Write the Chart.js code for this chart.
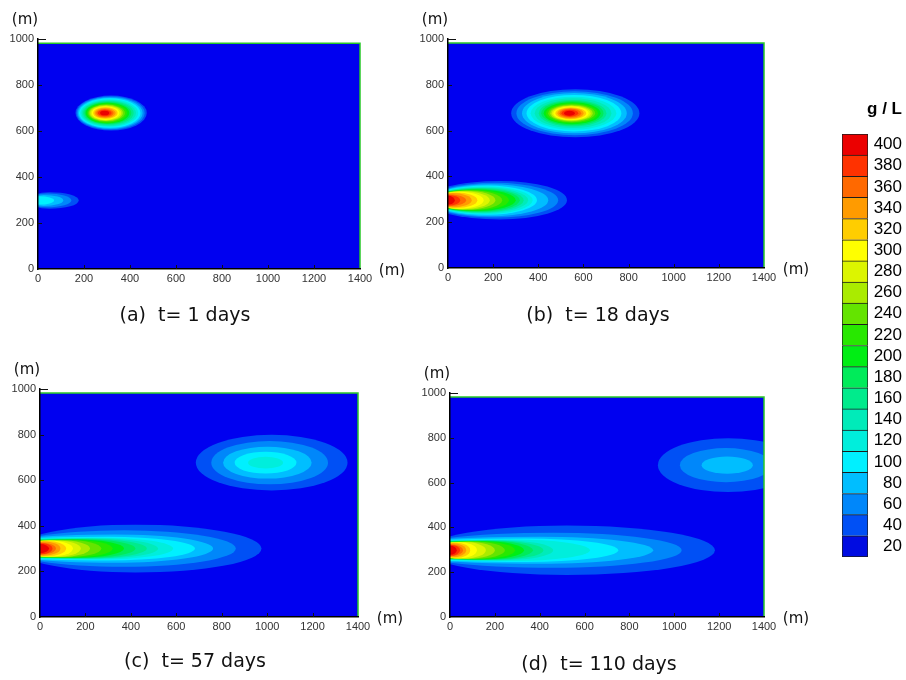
<!DOCTYPE html>
<html>
<head>
<meta charset="utf-8">
<script src="https://cdn.jsdelivr.net/npm/chart.js@4.4.0/dist/chart.umd.min.js"></script>
<style>
  body { margin: 0; background: #fff; }
  #wrap { position: relative; width: 906px; height: 680px; overflow: hidden; }
  canvas { position: absolute; }
</style>
</head>
<body>
<div id="wrap">
  <canvas id="pa" width="410" height="340" style="left:0px;top:0px"></canvas>
  <canvas id="pb" width="410" height="340" style="left:410px;top:0px"></canvas>
  <canvas id="pc" width="410" height="340" style="left:0px;top:340px"></canvas>
  <canvas id="pd" width="410" height="340" style="left:410px;top:340px"></canvas>
  <canvas id="legend" width="76" height="480" style="left:830px;top:90px"></canvas>
</div>
<script>
// colour levels (g/L) and flood colours, bottom to top
const levels = [20, 40, 60, 80, 100, 120, 140, 160, 180, 200, 220, 240, 260, 280, 300, 320, 340, 360, 380, 400];
const levelColors = [
  'rgb(0,12,225)', 'rgb(0,80,245)', 'rgb(0,135,250)', 'rgb(0,190,255)', 'rgb(0,240,255)',
  'rgb(0,238,220)', 'rgb(0,235,185)', 'rgb(0,235,140)', 'rgb(0,235,90)', 'rgb(0,238,20)',
  'rgb(40,232,0)', 'rgb(100,228,0)', 'rgb(170,235,0)', 'rgb(220,245,0)', 'rgb(255,255,0)',
  'rgb(255,205,0)', 'rgb(255,155,0)', 'rgb(255,105,0)', 'rgb(255,50,0)', 'rgb(235,0,0)'
];
const fieldColor = 'rgb(0,0,240)';

const xTicks = [0, 200, 400, 600, 800, 1000, 1200, 1400];
const yTicks = [0, 200, 400, 600, 800, 1000];
const domainW = 1400;
const domainH = 982;

const captions = ['(a)  t= 1 days', '(b)  t= 18 days', '(c)  t= 57 days', '(d)  t= 110 days'];

// contour rings, outermost (40 g/L) first. edge plume: centre x, right end, max half width, half width at x=0
// (a) t = 1 day
const aEdgeCy = 298;
const aEdgeXc = [50, 40, 25, 5];
const aEdgeXe = [177, 145, 110, 70];
const aEdgeHw = [36, 30, 24, 18];
const aEdgeEw = [30, 26, 21, 17];
const aBlobCy = 678;
const aBlobXc = [318, 316, 314, 312, 310, 308, 306, 304, 302, 300, 298, 296, 295, 294, 293, 292, 291, 290, 290];
const aBlobRx = [155, 148, 141, 134, 126, 118, 110, 102, 95, 87, 80, 73, 67, 60, 53, 46, 38, 30, 20];
const aBlobHw = [76, 72, 68, 64, 60, 56, 52, 48, 45, 42, 38, 35, 32, 29, 26, 22, 18, 14, 10];

// (b) t = 18 days
const bEdgeCy = 296;
const bEdgeXc = [230, 210, 190, 175, 165, 155, 145, 135, 125, 110, 95, 80, 65, 50, 35, 20, 0, 0, 0];
const bEdgeXe = [527, 488, 444, 394, 375, 355, 335, 318, 300, 270, 240, 210, 185, 158, 130, 105, 80, 54, 30];
const bEdgeHw = [84, 76, 70, 64, 60, 56, 53, 50, 47, 45, 43, 41, 39, 37, 34, 31, 26, 23, 19];
const bEdgeEw = [60, 54, 50, 46, 43, 41, 39, 38, 37, 36, 35, 34, 33, 32, 30, 28, 26, 23, 19];
const bBlobCy = 676;
const bBlobXc = [564, 561, 560, 558, 556, 554, 552, 551, 550, 549, 548, 547, 546, 545, 544, 543, 542, 540, 538];
const bBlobRx = [284, 258, 232, 210, 190, 170, 150, 138, 126, 115, 104, 94, 86, 78, 68, 58, 48, 37, 24];
const bBlobHw = [105, 96, 88, 80, 72, 65, 58, 53, 48, 43, 39, 35, 32, 29, 26, 23, 19, 15, 11];

// (c) t = 57 days
const cEdgeCy = 300;
const cEdgeXc = [420, 370, 330, 300, 260, 230, 210, 185, 160, 135, 110, 85, 65, 45, 30, 15, 0, 0, 0];
const cEdgeXe = [975, 862, 762, 682, 586, 520, 470, 420, 370, 320, 270, 220, 180, 145, 115, 90, 70, 55, 40];
const cEdgeHw = [105, 80, 62, 52, 48, 45, 43, 41, 40, 39, 38, 37, 36, 35, 33, 31, 27, 25, 20];
const cEdgeEw = [62, 56, 51, 47, 44, 42, 40, 39, 38, 37, 36, 35, 34, 33, 31, 29, 27, 25, 20];
const cBlobCy = 677;
const cBlobXc = [1020, 1011, 1001, 993, 993];
const cBlobRx = [334, 257, 195, 136, 77];
const cBlobHw = [122, 95, 70, 48, 26];

// (d) t = 110 days
const dEdgeCy = 298;
const dEdgeXc = [520, 460, 400, 340, 280, 220, 190, 165, 140, 120, 100, 80, 60, 40, 25, 12, 0, 0, 0];
const dEdgeXe = [1181, 1033, 906, 750, 624, 460, 416, 370, 330, 290, 245, 200, 160, 120, 90, 72, 58, 45, 30];
const dEdgeHw = [110, 78, 60, 52, 48, 45, 43, 42, 41, 40, 39, 38, 37, 36, 34, 31, 27, 25, 20];
const dEdgeEw = [62, 56, 51, 47, 44, 42, 40, 39, 38, 37, 36, 35, 34, 33, 31, 29, 27, 25, 20];
const dBlobCy = 678;
const dBlobXc = [1240, 1230, 1236];
const dBlobRx = [313, 205, 114];
const dBlobHw = [120, 76, 38];

const tickFont = {family: "'Liberation Sans', Arial, sans-serif", size: 11};
const labelFont = '15px "DejaVu Sans", sans-serif';
const captionFont = '19px "DejaVu Sans", sans-serif';

function edgePath(ctx, X, Y, cy, xc, xe, hw, ew) {
  const ratio = Math.min(ew / hw, 0.995);
  const xl = xc > 0 ? xc / Math.sqrt(1 - ratio * ratio) : xe - xc;
  const px = X.getPixelForValue(xc);
  const py = Y.getPixelForValue(cy);
  const rR = X.getPixelForValue(xe) - px;
  const rL = px - X.getPixelForValue(xc - xl);
  const ry = py - Y.getPixelForValue(cy + hw);
  ctx.beginPath();
  ctx.ellipse(px, py, rR, ry, 0, -Math.PI / 2, Math.PI / 2);
  ctx.ellipse(px, py, rL, ry, 0, Math.PI / 2, Math.PI * 1.5);
  ctx.closePath();
}

function blobPath(ctx, X, Y, cy, xc, rx, hw) {
  const px = X.getPixelForValue(xc);
  const py = Y.getPixelForValue(cy);
  const rxp = X.getPixelForValue(xc + rx) - px;
  const ryp = py - Y.getPixelForValue(cy + hw);
  ctx.beginPath();
  ctx.ellipse(px, py, rxp, ryp, 0, 0, Math.PI * 2);
}

const fieldPlugin = {
  id: 'field',
  beforeDraw(chart, args, opts) {
    const ctx = chart.ctx;
    const X = chart.scales.x, Y = chart.scales.y;
    const x0 = X.getPixelForValue(0), x1 = X.getPixelForValue(domainW);
    const y0 = Y.getPixelForValue(0), y1 = Y.getPixelForValue(domainH);
    ctx.save();
    ctx.fillStyle = fieldColor;
    ctx.fillRect(x0, y1, x1 - x0, y0 - y1);
    ctx.beginPath();
    ctx.rect(x0, y1, x1 - x0, y0 - y1);
    ctx.clip();
    ctx.filter = 'blur(0.7px)';
    opts.plumes.forEach(p => {
      p.xc.forEach((xc, i) => {
        if (p.kind === 'edge') edgePath(ctx, X, Y, p.cy, xc, p.xe[i], p.hw[i], p.ew[i]);
        else blobPath(ctx, X, Y, p.cy, xc, p.rx[i], p.hw[i]);
        ctx.fillStyle = levelColors[i + 1];
        ctx.fill();
      });
    });
    ctx.restore();
    // model boundary
    ctx.save();
    ctx.strokeStyle = 'rgb(40,200,40)';
    ctx.lineWidth = 1.5;
    ctx.beginPath();
    ctx.moveTo(x0, y1);
    ctx.lineTo(x1, y1);
    ctx.lineTo(x1, y0);
    ctx.stroke();
    ctx.restore();
  },
  afterDraw(chart, args, opts) {
    const ctx = chart.ctx;
    const X = chart.scales.x, Y = chart.scales.y;
    const a = chart.chartArea;
    ctx.save();
    ctx.strokeStyle = '#111';
    ctx.lineWidth = 1;
    ctx.beginPath();
    yTicks.slice(1).forEach(v => {
      const py = Math.round(Y.getPixelForValue(v)) + 0.5;
      ctx.moveTo(a.left, py);
      ctx.lineTo(a.left + (v === 1000 ? 8 : 4), py);
    });
    xTicks.slice(1, -1).forEach(v => {
      const px = Math.round(X.getPixelForValue(v)) + 0.5;
      ctx.moveTo(px, a.bottom);
      ctx.lineTo(px, a.bottom - 4);
    });
    ctx.stroke();
    ctx.fillStyle = '#111';
    ctx.font = labelFont;
    ctx.textAlign = 'center';
    ctx.textBaseline = 'middle';
    ctx.fillText('(m)', a.left - 13, a.top - 19);
    ctx.fillText('(m)', a.right + 32, a.bottom + 2);
    ctx.font = captionFont;
    ctx.fillText(opts.caption, opts.capX, opts.capY);
    ctx.restore();
  }
};

function makePanel(id, plumes, caption, box) {
  return new Chart(document.getElementById(id), {
    type: 'scatter',
    data: {datasets: []},
    options: {
      responsive: false,
      animation: false,
      events: [],
      layout: {padding: {left: 0, top: box.top, right: box.right, bottom: box.bottom}},
      plugins: {
        legend: {display: false},
        tooltip: {enabled: false},
        field: {plumes: plumes, caption: caption, capX: box.capX, capY: box.capY}
      },
      scales: {
        x: {
          type: 'linear', min: 0, max: 1400,
          afterBuildTicks: ax => { ax.ticks = xTicks.map(v => ({value: v})); },
          afterFit: s => { s.height = 20; },
          grid: {display: false, drawTicks: false},
          border: {display: true, color: '#000', width: 1.5},
          ticks: {font: tickFont, color: '#333', padding: 3, maxRotation: 0, autoSkip: false,
                  callback: v => String(v)}
        },
        y: {
          type: 'linear', min: 0, max: 1000,
          afterBuildTicks: ax => { ax.ticks = yTicks.map(v => ({value: v})); },
          afterFit: s => { s.width = box.yw; },
          grid: {display: false, drawTicks: false},
          border: {display: true, color: '#000', width: 1.5},
          ticks: {font: tickFont, color: '#333', padding: 4, autoSkip: false,
                  callback: v => String(v)}
        }
      }
    },
    plugins: [fieldPlugin]
  });
}

makePanel('pa', [
  {kind: 'edge', cy: aEdgeCy, xc: aEdgeXc, xe: aEdgeXe, hw: aEdgeHw, ew: aEdgeEw},
  {kind: 'blob', cy: aBlobCy, xc: aBlobXc, rx: aBlobRx, hw: aBlobHw}
], captions[0], {top: 39, right: 50, bottom: 51, yw: 38, capX: 185, capY: 316});

makePanel('pb', [
  {kind: 'edge', cy: bEdgeCy, xc: bEdgeXc, xe: bEdgeXe, hw: bEdgeHw, ew: bEdgeEw},
  {kind: 'blob', cy: bBlobCy, xc: bBlobXc, rx: bBlobRx, hw: bBlobHw}
], captions[1], {top: 39, right: 56, bottom: 52, yw: 38, capX: 188, capY: 316});

makePanel('pc', [
  {kind: 'edge', cy: cEdgeCy, xc: cEdgeXc, xe: cEdgeXe, hw: cEdgeHw, ew: cEdgeEw},
  {kind: 'blob', cy: cBlobCy, xc: cBlobXc, rx: cBlobRx, hw: cBlobHw}
], captions[2], {top: 49, right: 52, bottom: 43, yw: 40, capX: 195, capY: 322});

makePanel('pd', [
  {kind: 'edge', cy: dEdgeCy, xc: dEdgeXc, xe: dEdgeXe, hw: dEdgeHw, ew: dEdgeEw},
  {kind: 'blob', cy: dBlobCy, xc: dBlobXc, rx: dBlobRx, hw: dBlobHw}
], captions[3], {top: 53, right: 56, bottom: 43, yw: 40, capX: 189, capY: 325});

// colour bar
const step = levels[1] - levels[0];
new Chart(document.getElementById('legend'), {
  type: 'bar',
  data: {
    labels: [''],
    datasets: levels.map((lv, i) => ({
      label: String(lv),
      data: [step],
      backgroundColor: levelColors[i],
      borderColor: '#1c1c1c',
      borderWidth: {top: 1, left: 1, right: 1, bottom: i === 0 ? 1 : 0},
      borderSkipped: false,
      barPercentage: 1,
      categoryPercentage: 1
    }))
  },
  options: {
    responsive: false,
    animation: false,
    events: [],
    layout: {padding: {left: 12, top: 0, right: 4, bottom: 13}},
    plugins: {
      legend: {display: false},
      tooltip: {enabled: false},
      title: {
        display: true, text: 'g / L', align: 'end', color: '#000',
        font: {family: "'Liberation Sans', Arial, sans-serif", size: 17, weight: 'bold', lineHeight: 1.2},
        padding: {top: 9, bottom: 14.6}
      }
    },
    scales: {
      x: {display: false, stacked: true},
      y: {
        stacked: true, position: 'right', min: 0, max: levels[levels.length - 1],
        afterBuildTicks: ax => { ax.ticks = levels.map(lv => ({value: lv - step / 2})); },
        afterFit: s => { s.width = 34; },
        grid: {display: false, drawTicks: false},
        border: {display: false},
        ticks: {
          callback: (v, i) => levels[i],
          crossAlign: 'far', padding: 2, color: '#000', autoSkip: false,
          font: {family: "'Liberation Sans Narrow', 'Liberation Sans', Arial, sans-serif", size: 17}
        }
      }
    }
  }
});
</script>
</body>
</html>
